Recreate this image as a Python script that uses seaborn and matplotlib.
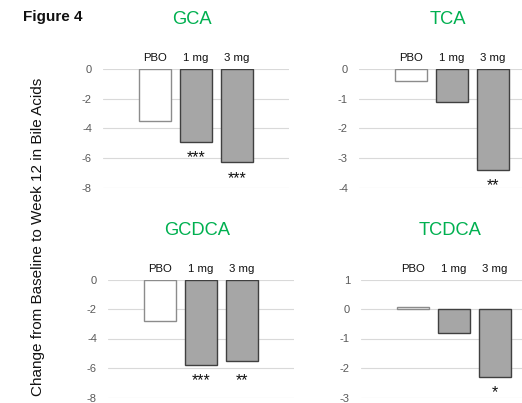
import matplotlib
matplotlib.use("Agg")
import matplotlib.pyplot as plt
import seaborn as sns
import pandas as pd

# Mean change from baseline to week 12, by bile acid and dose group
groups = ["PBO", "1 mg", "3 mg"]
acids = ["GCA", "TCA", "GCDCA", "TCDCA"]
gca = [-3.5, -4.9, -6.3]
tca = [-0.4, -1.1, -3.4]
gcdca = [-2.8, -5.8, -5.5]
tcdca = [0.08, -0.8, -2.3]
gca_sig = ["", "***", "***"]
tca_sig = ["", "", "**"]
gcdca_sig = ["", "***", "**"]
tcdca_sig = ["", "", "*"]
gca_ticks = [0, -2, -4, -6, -8]
tca_ticks = [0, -1, -2, -3, -4]
gcdca_ticks = [0, -2, -4, -6, -8]
tcdca_ticks = [1, 0, -1, -2, -3]

sns.set_theme(style="white")
plt.rcParams["font.family"] = ["Liberation Sans", "DejaVu Sans"]

W, H = 522, 403
fig = plt.figure(figsize=(W / 100, H / 100), dpi=100)

PX = 0.72  # points per pixel at 100 dpi
GREEN = "#00B050"
TICK_GREY = "#595959"
GRID = "#d9d9d9"
BAR_FILL = ["#ffffff", "#a6a6a6", "#a6a6a6"]
BAR_EDGE = ["#8c8c8c", "#404040", "#404040"]


def add_axes_px(left, right, top, bottom):
    return fig.add_axes([left / W, 1 - bottom / H, (right - left) / W, (bottom - top) / H])


def panel(ax, name, values, sig, ticks):
    df = pd.DataFrame({"group": groups, "value": values})
    sns.barplot(data=df, x="group", y="value", hue="group", palette=BAR_FILL,
                legend=False, width=0.8, ax=ax, zorder=3)
    for patch, ec in zip(ax.patches, BAR_EDGE):
        patch.set_edgecolor(ec)
        patch.set_linewidth(1.0)
    ax.set_xlim(-1.27, 3.27)
    ax.set_ylim(min(ticks), max(ticks))
    ax.set_yticks(ticks)
    ax.set_yticklabels([str(t) for t in ticks], color=TICK_GREY, fontsize=8)
    ax.tick_params(axis="y", length=0, pad=8)
    ax.set_xticks([])
    ax.set_xlabel("")
    ax.set_ylabel("")
    for s in ax.spines.values():
        s.set_visible(False)
    ax.yaxis.grid(True, color=GRID, linewidth=0.8, zorder=0)
    ax.set_axisbelow(True)

    # dose group labels above the bars
    for i, g in enumerate(groups):
        ax.annotate(g, xy=(i, 1), xycoords=("data", "axes fraction"),
                    xytext=(0, 11 * PX), textcoords="offset points",
                    ha="center", va="center", fontsize=8.2, color="#111111",
                    annotation_clip=False)
    # panel title
    ax.annotate(name, xy=(0.9, 1), xycoords=("data", "axes fraction"),
                xytext=(0, 49 * PX), textcoords="offset points",
                ha="center", va="center", fontsize=13.2, color=GREEN,
                annotation_clip=False)

    # significance marks below each bar; neighbouring marks share a row
    lows = [min(v, 0) for v in values]
    scale = (ax.get_position().height * H) / (max(ticks) - min(ticks))
    marked = [i for i, s in enumerate(sig) if s]
    for i in marked:
        y = lows[i]
        for j in marked:
            if abs(lows[j] - lows[i]) * scale < 8:
                y = min(y, lows[j])
        ax.annotate(sig[i], xy=(i, y), xycoords="data",
                    xytext=(0, -16 * PX), textcoords="offset points",
                    ha="center", va="center", fontsize=11.5, color="#111111",
                    annotation_clip=False)


ax1 = add_axes_px(103, 289, 69, 187.7)
panel(ax1, acids[0], gca, gca_sig, gca_ticks)
ax2 = add_axes_px(359, 545, 69, 187.7)
panel(ax2, acids[1], tca, tca_sig, tca_ticks)
ax3 = add_axes_px(108, 294, 279.5, 397.5)
panel(ax3, acids[2], gcdca, gcdca_sig, gcdca_ticks)
ax4 = add_axes_px(361, 547, 279.5, 397.5)
panel(ax4, acids[3], tcdca, tcdca_sig, tcdca_ticks)

fig.text(23 / W, 1 - 17 / H, "Figure 4", ha="left", va="center",
         fontsize=11, fontweight="bold", color="#111111")
fig.text(38 / W, 1 - 237 / H, "Change from Baseline to Week 12 in Bile Acids",
         rotation=90, ha="center", va="center", fontsize=11, color="#111111")

fig.savefig("out.png", dpi=100)
